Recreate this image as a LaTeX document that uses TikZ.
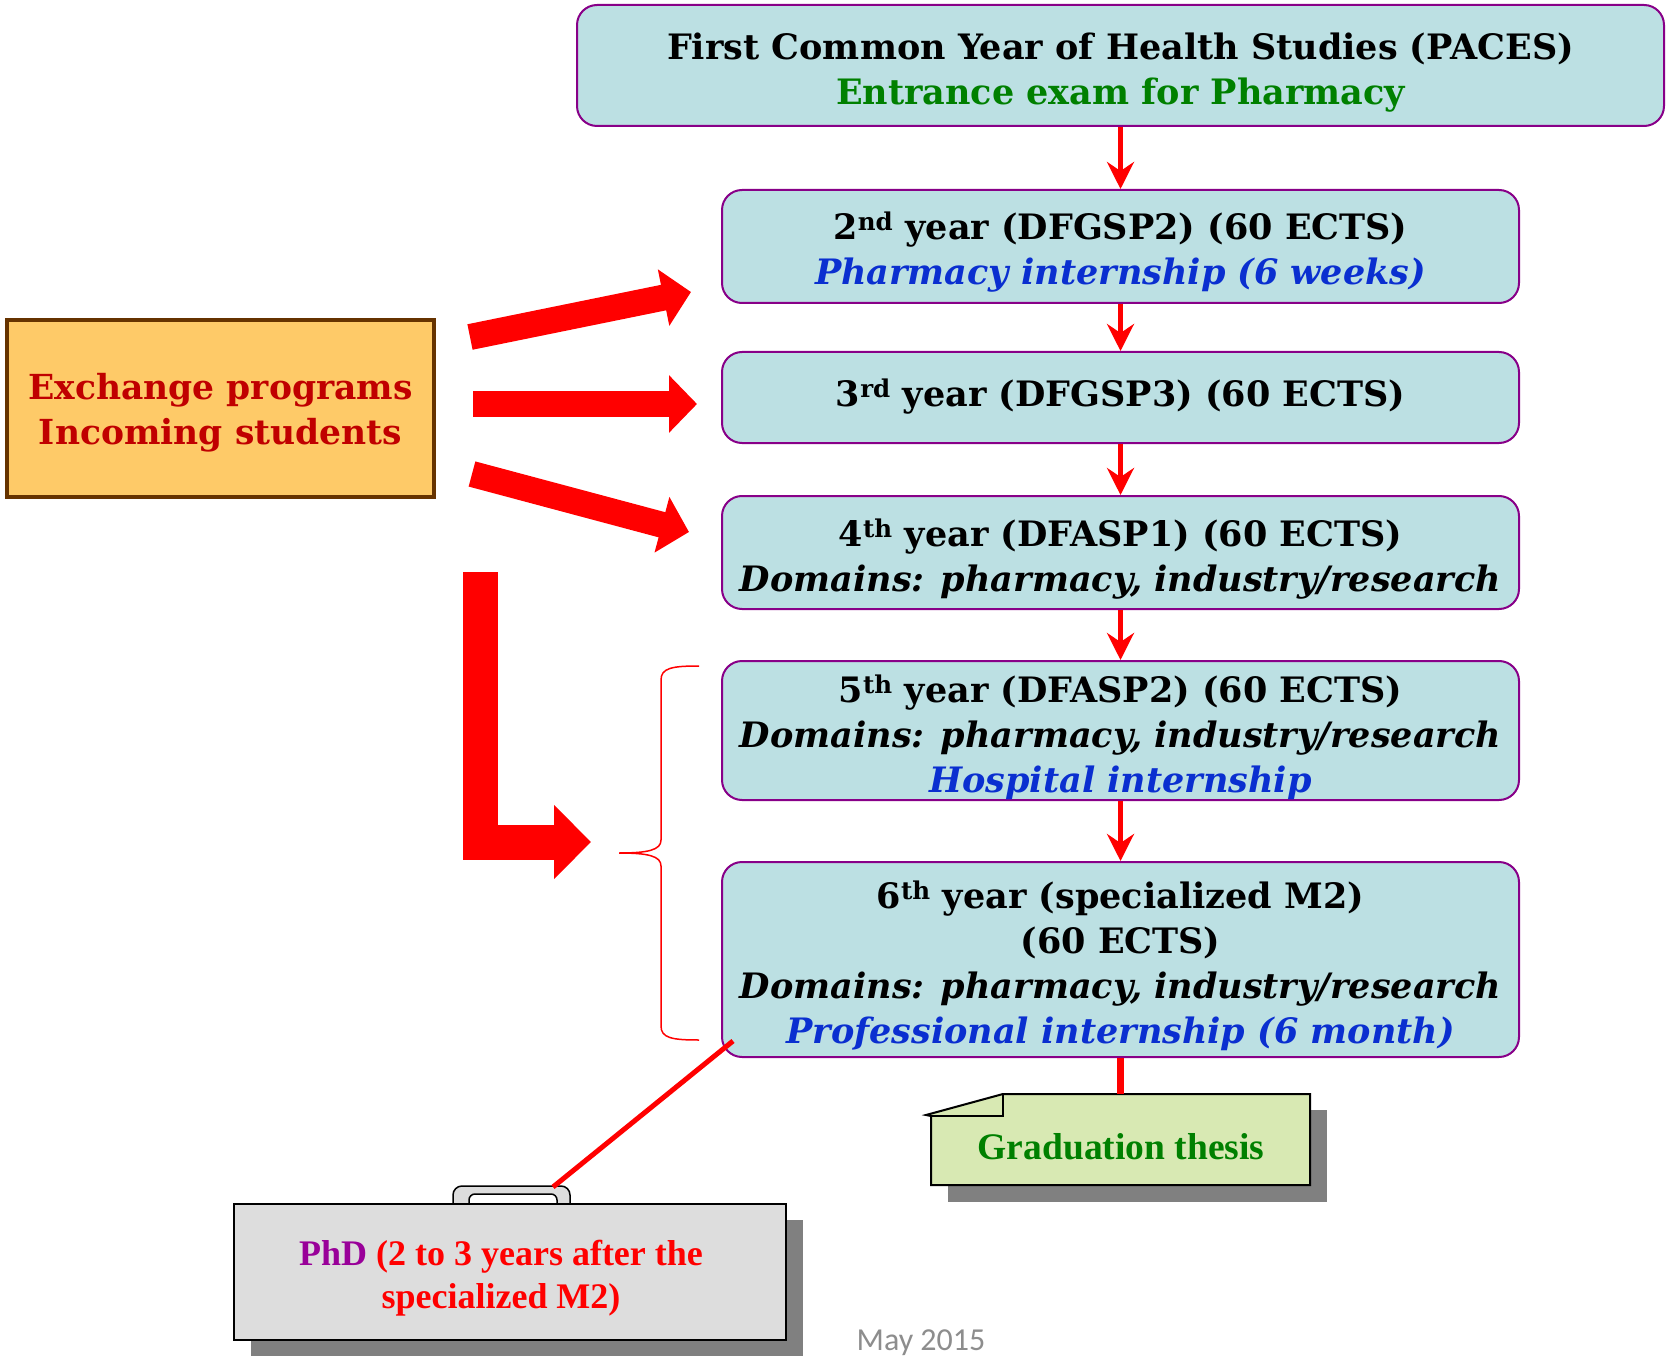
\documentclass[tikz,border=0pt]{standalone}
\usepackage{fontspec}
\setmainfont{DejaVu Serif}
\newfontfamily\palfont{Liberation Serif}
\newfontfamily\calfont{Carlito}
\usetikzlibrary{arrows.meta}
\definecolor{boxfill}{HTML}{BCE0E3}
\definecolor{boxborder}{HTML}{880088}
\definecolor{dgreen}{HTML}{008000}
\definecolor{iblue}{HTML}{0A2FD0}
\definecolor{exfill}{HTML}{FECA68}
\definecolor{exborder}{HTML}{663300}
\definecolor{exred}{HTML}{C00000}
\definecolor{phdfill}{HTML}{DDDDDD}
\definecolor{shadowgray}{HTML}{808080}
\definecolor{thfill}{HTML}{D8E9B3}
\definecolor{phdpurple}{HTML}{990099}
\tikzset{
  yearbox/.style={draw=boxborder, line width=2pt, fill=boxfill, rounded corners=20pt,
    minimum width=797pt, inner sep=0pt},
  yeartext/.style={align=center, inner sep=0pt,
    font=\fontsize{35}{45}\selectfont\bfseries},
  downarrow/.style={draw=red, line width=5pt, -{Stealth[length=27pt,width=27pt,inset=9pt]}},
  fatarrow/.style={draw=red, line width=26pt, -{Triangle[length=28pt,width=56pt]}},
  fatL/.style={draw=red, line width=35pt, line join=miter, -{Triangle[length=37pt,width=72pt]}},
}
\begin{document}
\begin{tikzpicture}[x=1pt,y=-1pt]
\useasboundingbox (0,0) rectangle (1666,1356);

% year boxes
\node[yearbox, minimum width=1087pt, minimum height=121pt] (top) at (1120.5,65.5) {};
\node[yeartext] (topt) at ([yshift=-7.5pt]top.center)
  {First Common Year of Health Studies (PACES)\\\textcolor{dgreen}{Entrance exam for Pharmacy}};
\node[yearbox, minimum height=113pt] (b2) at (1120.5,246.5) {};
\node[yeartext] (b2t) at ([yshift=-6pt]b2.center)
  {2\textsuperscript{nd} year (DFGSP2) (60 ECTS)\\\textcolor{iblue}{\itshape Pharmacy internship (6 weeks)}};
\node[yearbox, minimum height=91pt] (b3) at (1120.5,397.5) {};
\node[yeartext] (b3t) at ([yshift=1pt]b3.center)
  {3\textsuperscript{rd} year (DFGSP3) (60 ECTS)};
\node[yearbox, minimum height=113pt] (b4) at (1120.5,552.5) {};
\node[yeartext] (b4t) at ([yshift=-6.5pt]b4.center)
  {4\textsuperscript{th} year (DFASP1) (60 ECTS)\\{\itshape Domains: pharmacy, industry/research}};
\node[yearbox, minimum height=139pt] (b5) at (1120.5,730.5) {};
\node[yeartext] (b5t) at ([yshift=-6.5pt]b5.center)
  {5\textsuperscript{th} year (DFASP2) (60 ECTS)\\{\itshape Domains: pharmacy, industry/research}\\\textcolor{iblue}{\itshape Hospital internship}};
\node[yearbox, minimum height=195pt] (b6) at (1120.5,959.5) {};
\node[yeartext] (b6t) at ([yshift=-6pt]b6.center)
  {6\textsuperscript{th} year (specialized M2)\\(60 ECTS)\\{\itshape Domains: pharmacy, industry/research}\\\textcolor{iblue}{\itshape Professional internship (6 month)}};

\draw[downarrow] (top.south) -- (b2.north);
\draw[downarrow] (b2.south) -- (b3.north);
\draw[downarrow] (b3.south) -- (b4.north);
\draw[downarrow] (b4.south) -- (b5.north);
\draw[downarrow] (b5.south) -- (b6.north);

% exchange box
\node[draw=exborder, line width=4pt, fill=exfill, minimum width=427pt, minimum height=177pt,
  inner sep=0pt] (ex) at (220.5,408.5) {};
\node[yeartext, text=exred, font=\fontsize{34.5}{45}\selectfont\bfseries]
  (ext) at ([yshift=-4pt]ex.center) {Exchange programs\\Incoming students};

\coordinate (a1s) at (470,337); \coordinate (a1e) at (691,292);
\coordinate (a2s) at (473,404); \coordinate (a2e) at (697,404);
\coordinate (a3s) at (472,474); \coordinate (a3e) at (689,532);
\draw[fatarrow] (a1s) -- (a1e);
\draw[fatarrow] (a2s) -- (a2e);
\draw[fatarrow] (a3s) -- (a3e);
\coordinate (Ls) at (480.5,572); \coordinate (Le) at (591,842);
\draw[fatL] (Ls) |- (Le);

% brace
\draw[red, line width=1.5pt] (699,666) .. controls (672,666) and (661,668) .. (661,680) -- (661,840)
  .. controls (661,850) and (648,853) .. (619,853) .. controls (648,853) and (661,856) .. (661,866)
  -- (661,1026) .. controls (661,1038) and (672,1040) .. (699,1040);

% graduation thesis
\fill[shadowgray] (948,1110) rectangle (1327,1202);
\filldraw[fill=thfill, draw=black, line width=2pt] (931,1116) -- (931,1185) -- (1310,1185) -- (1310,1094) -- (1003,1094) -- (926,1115) -- cycle;
\draw[black, line width=2pt] (1003,1094) -- (1003,1116) -- (931,1116);
\node[minimum width=379pt, minimum height=91pt, inner sep=0pt] (thesis) at (1120.5,1139.5) {};
\node[inner sep=0pt, text=dgreen, font=\palfont\fontsize{37.5}{42}\selectfont\bfseries]
  (thesist) at (1121,1147) {Graduation thesis};
\draw[red, line width=7pt] (b6.south) -- (thesis.north);

% PhD box
\filldraw[fill=phdfill, draw=black, line width=1.5pt, rounded corners=9pt] (453,1210) -- (453,1186) -- (570,1186) -- (570,1210);
\filldraw[fill=white, draw=black, line width=1.5pt, rounded corners=6pt] (469,1210) -- (469,1194) -- (557,1194) -- (557,1210);
\fill[shadowgray] (251,1220) rectangle (803,1360);
\node[draw=black, fill=phdfill, line width=2pt, minimum width=552pt, minimum height=136pt,
  inner sep=0pt] (phd) at (510,1272) {};
\node[inner sep=0pt, align=center, text=red, font=\palfont\fontsize{36}{42.5}\selectfont\bfseries]
  (phdt) at ([xshift=-9pt,yshift=-6pt]phd.center) {\textcolor{phdpurple}{PhD} (2 to 3 years after the\\specialized M2)};
\coordinate (phdtop) at (553,1187);
\coordinate (b6corner) at (733,1041);
\draw[red, line width=5pt] (b6corner) -- (phdtop);

\node[text=shadowgray!90, font=\calfont\fontsize{32}{36}\selectfont] (date) at (921,1343) {May 2015};
\end{tikzpicture}
\end{document}
